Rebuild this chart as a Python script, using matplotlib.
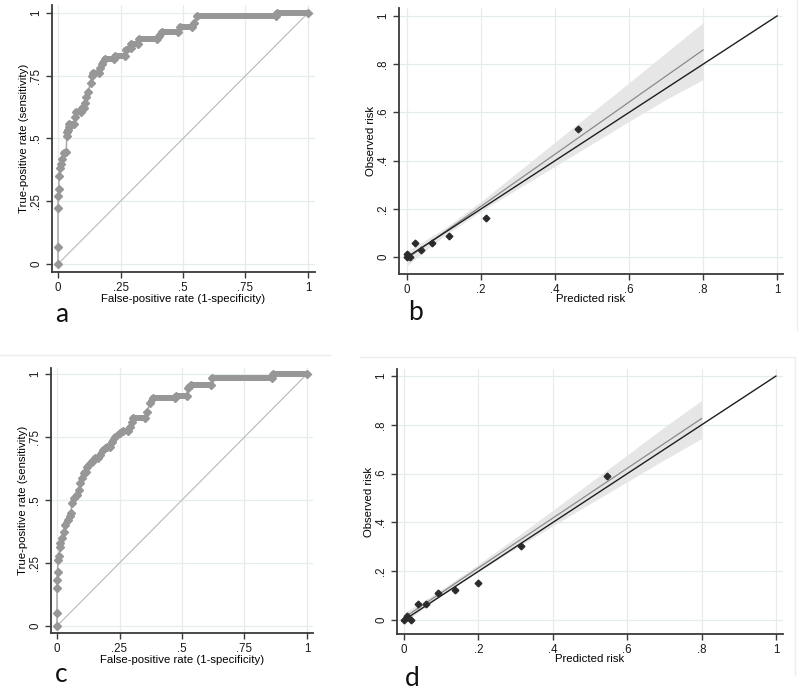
import matplotlib
matplotlib.use("Agg")
import matplotlib.pyplot as plt
from matplotlib.lines import Line2D
import numpy as np

# ---------------- data ----------------
# Panel a: ROC curve vertices (false-positive rate, true-positive rate)
fpr_a = [0, 0, 0, 0.001, 0.003, 0.004, 0.008, 0.013, 0.017, 0.023, 0.033,
         0.035, 0.035, 0.041, 0.044, 0.044, 0.064, 0.066, 0.07, 0.09, 0.095,
         0.105, 0.107, 0.113, 0.12, 0.13, 0.137, 0.141, 0.165, 0.168, 0.175,
         0.188, 0.225, 0.229, 0.268, 0.27, 0.29, 0.293, 0.318, 0.322, 0.395,
         0.405, 0.415, 0.48, 0.488, 0.535, 0.545, 0.555, 0.872, 0.875, 1.0]
tpr_a = [0, 0.066, 0.224, 0.272, 0.30, 0.35, 0.381, 0.40, 0.417, 0.443, 0.447,
         0.51, 0.527, 0.535, 0.545, 0.558, 0.558, 0.587, 0.604, 0.604, 0.62,
         0.62, 0.64, 0.667, 0.687, 0.72, 0.749, 0.762, 0.762, 0.78, 0.797,
         0.817, 0.817, 0.829, 0.829, 0.853, 0.86, 0.875, 0.875, 0.895, 0.895,
         0.91, 0.925, 0.925, 0.943, 0.943, 0.96, 0.988, 0.988, 1.0, 1.0]

# Panel c: ROC curve vertices
fpr_c = [0, 0, 0, 0, 0.002, 0.004, 0.008, 0.011, 0.013, 0.02, 0.027, 0.033,
         0.043, 0.05, 0.055, 0.06, 0.069, 0.08, 0.087, 0.093, 0.1, 0.107,
         0.116, 0.121, 0.139, 0.152, 0.165, 0.172, 0.185, 0.199, 0.212, 0.219,
         0.232, 0.252, 0.265, 0.285, 0.292, 0.299, 0.305, 0.352, 0.359, 0.372,
         0.384, 0.471, 0.474, 0.518, 0.524, 0.537, 0.617, 0.619, 0.859, 0.865, 1.0]
tpr_c = [0, 0.053, 0.149, 0.183, 0.215, 0.262, 0.278, 0.312, 0.33, 0.348,
         0.374, 0.40, 0.42, 0.437, 0.45, 0.487, 0.506, 0.52, 0.54, 0.566,
         0.586, 0.608, 0.61, 0.632, 0.652, 0.665, 0.665, 0.679, 0.698, 0.711,
         0.711, 0.731, 0.749, 0.765, 0.775, 0.775, 0.788, 0.811, 0.824, 0.824,
         0.85, 0.884, 0.904, 0.904, 0.913, 0.913, 0.946, 0.956, 0.956, 0.986,
         0.986, 1.0, 1.0]

# Panel b: calibration (predicted, observed)
pred_b = [0.0, 0.0, 0.008, 0.022, 0.037, 0.068, 0.114, 0.214, 0.463]
obs_b = [0.0, 0.015, 0.0, 0.06, 0.028, 0.06, 0.088, 0.164, 0.53]
fit_x_b = [0.0, 0.8]
fit_y_b = [-0.005, 0.859]
band_x = [0.0, 0.1, 0.2, 0.3, 0.4, 0.5, 0.6, 0.7, 0.8]
band_lo_b = [-0.035, 0.088, 0.191, 0.284, 0.377, 0.47, 0.563, 0.654, 0.736]
band_hi_b = [0.025, 0.118, 0.231, 0.354, 0.477, 0.60, 0.723, 0.848, 0.972]

# Panel d: calibration
pred_d = [0.0, 0.007, 0.018, 0.037, 0.059, 0.09, 0.137, 0.20, 0.314, 0.545]
obs_d = [0.0, 0.016, 0.0, 0.064, 0.064, 0.109, 0.123, 0.153, 0.305, 0.591]
fit_x_d = [0.0, 0.8]
fit_y_d = [0.01, 0.826]
band_lo_d = [-0.01, 0.10, 0.199, 0.294, 0.386, 0.477, 0.567, 0.657, 0.744]
band_hi_d = [0.03, 0.124, 0.229, 0.338, 0.45, 0.563, 0.677, 0.791, 0.90]

ref_line = [0, 1]

roc_ticks = [0, 0.25, 0.5, 0.75, 1]
roc_ticklabels = ["0", ".25", ".5", ".75", "1"]
cal_ticks = [0, 0.2, 0.4, 0.6, 0.8, 1]
cal_ticklabels = ["0", ".2", ".4", ".6", ".8", "1"]

panel_letters = ["a", "b", "c", "d"]

# ---------------- style ----------------
plt.rcParams['font.family'] = ['Liberation Sans', 'DejaVu Sans']
W, H = 800, 693
fig = plt.figure(figsize=(W / 100, H / 100), dpi=100)
fig.patch.set_facecolor("white")

GRID = "#e4ecee"
SPINE = "#3a3a3a"
ROC_COL = "#979797"
FS = 8.3
LFS = 8.2


def px_axes(l, t, r, b):
    return fig.add_axes([l / W, 1 - b / H, (r - l) / W, (b - t) / H])


def style_axes(ax, ticks, labels, vgrid):
    for s in ["top", "right"]:
        ax.spines[s].set_visible(False)
    for s in ["left", "bottom"]:
        ax.spines[s].set_color(SPINE)
        ax.spines[s].set_linewidth(1.3)
    ax.set_xticks(ticks)
    ax.set_xticklabels(labels)
    ax.set_yticks(ticks)
    ax.set_yticklabels(labels, rotation=90, va="center")
    ax.tick_params(direction="out", length=4, width=1.0, color=SPINE,
                   labelsize=FS, labelcolor="#1a1a1a", pad=3)
    ax.yaxis.grid(True, color=GRID, lw=0.9)
    ax.xaxis.grid(vgrid, color=GRID, lw=0.9)
    ax.set_axisbelow(True)


def draw_roc(ax, fpr, tpr):
    ax.plot(ref_line, ref_line, color="#b8b8b8", lw=0.8, zorder=2)
    ax.plot(fpr, tpr, color="#a8a8a8", lw=1.1, zorder=3)
    # dense runs of cut-points (where the false-positive rate changes) look like a band
    for i in range(len(fpr) - 1):
        dx = fpr[i + 1] - fpr[i]
        dy = tpr[i + 1] - tpr[i]
        if dx > 0.5 * dy and dx > 0:
            ax.plot([fpr[i], fpr[i + 1]], [tpr[i], tpr[i + 1]], color=ROC_COL,
                    lw=4.3, solid_capstyle="round", zorder=4)
    ax.plot(fpr, tpr, ls="none", marker="D", ms=4.0, mfc=ROC_COL, mec=ROC_COL,
            zorder=5)


def draw_cal(ax, px_, ob, fx, fy, lo, hi):
    ax.fill_between(band_x, lo, hi, color="#e6e6e6", lw=0, zorder=2)
    ax.plot(fx, fy, color="#8a8a8a", lw=0.9, zorder=3)
    ax.plot(ref_line, ref_line, color="#1e1e1e", lw=1.0, zorder=4)
    ax.plot(px_, ob, ls="none", marker="D", ms=3.4, mfc="#2b2b2b", mec="#2b2b2b",
            zorder=5)


# Panel a
ax_a = px_axes(52, 5, 315, 272)
draw_roc(ax_a, fpr_a, tpr_a)
ax_a.set_xlim(-0.024, 1.028)
ax_a.set_ylim(-0.032, 1.032)
style_axes(ax_a, roc_ticks, roc_ticklabels, True)
ax_a.set_xlabel("False-positive rate (1-specificity)", fontsize=LFS, labelpad=0)
ax_a.set_ylabel("True-positive rate (sensitivity)", fontsize=LFS, labelpad=1)

# Panel b
ax_b = px_axes(399, 8, 783, 274)
draw_cal(ax_b, pred_b, obs_b, fit_x_b, fit_y_b, band_lo_b, band_hi_b)
ax_b.set_xlim(-0.022, 1.016)
ax_b.set_ylim(-0.07, 1.033)
style_axes(ax_b, cal_ticks, cal_ticklabels, False)
ax_b.set_xlabel("Predicted risk", fontsize=LFS, labelpad=-1)
ax_b.set_ylabel("Observed risk", fontsize=LFS, labelpad=1)

# Panel c
ax_c = px_axes(51, 368, 313, 633)
draw_roc(ax_c, fpr_c, tpr_c)
ax_c.set_xlim(-0.024, 1.024)
ax_c.set_ylim(-0.028, 1.024)
style_axes(ax_c, roc_ticks, roc_ticklabels, True)
ax_c.set_xlabel("False-positive rate (1-specificity)", fontsize=LFS, labelpad=0)
ax_c.set_ylabel("True-positive rate (sensitivity)", fontsize=LFS, labelpad=1)

# Panel d
ax_d = px_axes(397, 369, 783, 634)
draw_cal(ax_d, pred_d, obs_d, fit_x_d, fit_y_d, band_lo_d, band_hi_d)
ax_d.set_xlim(-0.019, 1.019)
ax_d.set_ylim(-0.057, 1.029)
style_axes(ax_d, cal_ticks, cal_ticklabels, False)
ax_d.set_xlabel("Predicted risk", fontsize=LFS, labelpad=-1)
ax_d.set_ylabel("Observed risk", fontsize=LFS, labelpad=1)

# Panel letters
letter_pos = [(55, 322), (408, 320), (55, 682), (405, 686)]
for letter, (x, y) in zip(panel_letters, letter_pos):
    fig.text(x / W, 1 - y / H, letter, fontsize=19, family=["Lato", "DejaVu Sans"],
             ha="left", va="baseline", color="#111111")

# faint frame lines from the assembled figure
fig.add_artist(Line2D([0, 330 / W], [1 - 355 / H, 1 - 355 / H], color="#ececec", lw=1))
fig.add_artist(Line2D([360 / W, 795 / W], [1 - 357 / H, 1 - 357 / H], color="#ececec", lw=1))
fig.add_artist(Line2D([797 / W, 797 / W], [1 - 0 / H, 1 - 330 / H], color="#ececec", lw=1))
fig.add_artist(Line2D([795 / W, 795 / W], [1 - 357 / H, 1 - 675 / H], color="#ececec", lw=1))

fig.savefig("out.png", dpi=100, facecolor="white")
